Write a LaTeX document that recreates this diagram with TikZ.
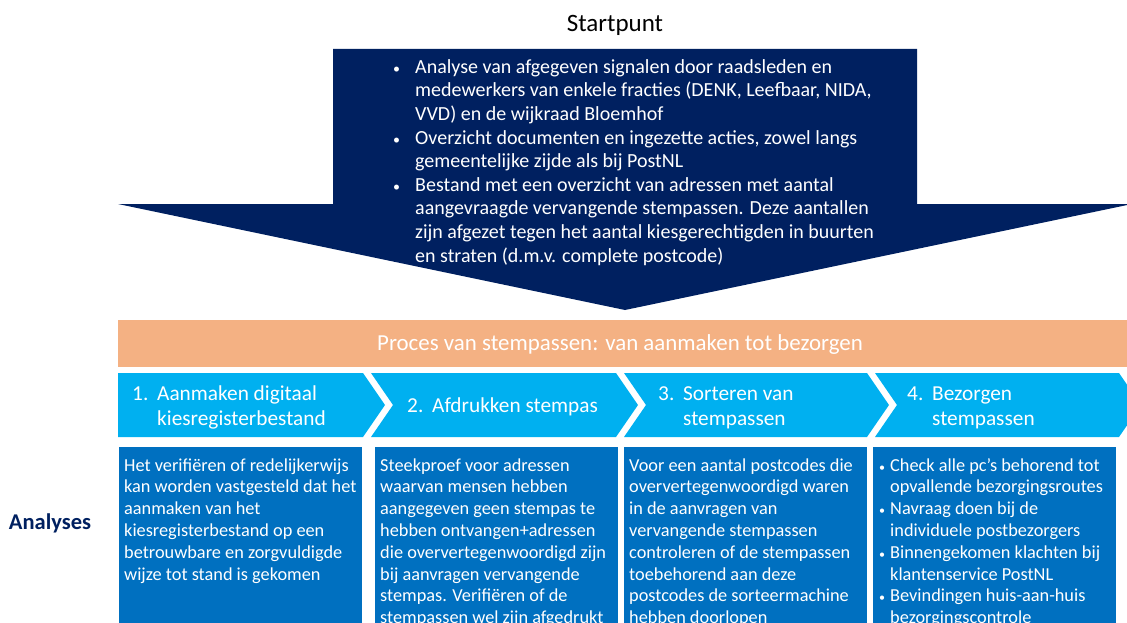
\documentclass[tikz,border=0pt]{standalone}
\usepackage{fontspec}
\setmainfont{Carlito}
\usetikzlibrary{positioning}

\definecolor{startnavy}{HTML}{002060}
\definecolor{procesorange}{HTML}{F4B183}
\definecolor{stapcyan}{HTML}{00B0F0}
\definecolor{analyseblue}{HTML}{0070C0}

\newcommand{\stip}{\makebox[25pt][l]{\hspace*{3pt}\fontsize{14}{14}\selectfont\textbullet}}
\newcommand{\stipin}{\hspace*{25pt}}
\newcommand{\kleinstip}{\makebox[11pt][l]{\fontsize{12}{12}\selectfont\textbullet}}
\newcommand{\kleinin}{\hspace*{11pt}}
\newcommand{\stapnr}[1]{\makebox[25pt][l]{#1}}

\begin{document}
\begin{tikzpicture}[x=1pt, y=-1pt,
  staptext/.style={text=white, align=left, inner sep=0pt, font=\fontsize{21.3}{24.5}\selectfont},
  analysetext/.style={text=white, anchor=north west, align=left, inner sep=0pt, font=\fontsize{18.3}{21.8}\selectfont}]
\useasboundingbox (0,0) rectangle (1127,623);
\clip (0,0) rectangle (1127,623);

\node[anchor=base, inner sep=0pt, font=\fontsize{25}{28}\selectfont] (startpunt) at (615,32) {Startpunt};

\fill[startnavy] (333,49) -- (917,49) -- (917,204) -- (1132,204) -- (625,310) -- (118,204) -- (333,204) -- cycle;
\node[anchor=north west, inner sep=0pt, align=left, text=white, font=\fontsize{20}{23.6}\selectfont] (bronnen) at (390,56.5) {\strut\stip Analyse van afgegeven signalen door raadsleden en\\
\stipin medewerkers van enkele fracties (DENK, Leefbaar, NIDA,\\
\stipin VVD) en de wijkraad Bloemhof\\
\stip Overzicht documenten en ingezette acties, zowel langs\\
\stipin gemeentelijke zijde als bij PostNL\\
\stip Bestand met een overzicht van adressen met aantal\\
\stipin aangevraagde vervangende stempassen. Deze aantallen\\
\stipin zijn afgezet tegen het aantal kiesgerechtigden in buurten\\
\stipin en straten (d.m.v. complete postcode)};

\fill[procesorange] (118,320) rectangle (1127,367);
\node[anchor=base, inner sep=0pt, text=white, font=\fontsize{22.9}{26}\selectfont] (proces) at (620,350.7) {Proces van stempassen: van aanmaken tot bezorgen};

\fill[stapcyan] (118,373) -- (363,373) -- (385,405) -- (363,437) -- (118,437) -- cycle;
\fill[stapcyan] (371,373) -- (616,373) -- (638,405) -- (616,437) -- (371,437) -- (393,405) -- cycle;
\fill[stapcyan] (624,373) -- (867,373) -- (889,405) -- (867,437) -- (624,437) -- (646,405) -- cycle;
\fill[stapcyan] (875,373) -- (1119,373) -- (1141,405) -- (1119,437) -- (875,437) -- (897,405) -- cycle;
\node[staptext, anchor=north west] (stap1) at (132,383.5) {\strut\stapnr{1.}Aanmaken digitaal\\ \stipin kiesregisterbestand};
\node[staptext, anchor=base west] (stap2) at (407,412.7) {\stapnr{2.}Afdrukken stempas};
\node[staptext, anchor=north west] (stap3) at (658,383.5) {\strut\stapnr{3.}Sorteren van\\ \stipin stempassen};
\node[staptext, anchor=north west] (stap4) at (907,383.5) {\strut\stapnr{4.}Bezorgen\\ \stipin stempassen};

\node[anchor=base, inner sep=0pt, text=startnavy, font=\bfseries\fontsize{22.5}{25}\selectfont] (analyses) at (50,529) {Analyses};

\fill[analyseblue] (119,447) rectangle (362,630);
\fill[analyseblue] (375,447) rectangle (618,630);
\fill[analyseblue] (624,447) rectangle (867,630);
\fill[analyseblue] (873,447) rectangle (1116,630);
\node[analysetext] (analyse1) at (124,455.7) {\strut Het verifiëren of redelijkerwijs\\
kan worden vastgesteld dat het\\
aanmaken van het\\
kiesregisterbestand op een\\
betrouwbare en zorgvuldigde\\
wijze tot stand is gekomen};
\node[analysetext] (analyse2) at (380,455.7) {\strut Steekproef voor adressen\\
waarvan mensen hebben\\
aangegeven geen stempas te\\
hebben ontvangen+adressen\\
die oververtegenwoordigd zijn\\
bij aanvragen vervangende\\
stempas. Verifiëren of de\\
stempassen wel zijn afgedrukt};
\node[analysetext] (analyse3) at (629,455.7) {\strut Voor een aantal postcodes die\\
oververtegenwoordigd waren\\
in de aanvragen van\\
vervangende stempassen\\
controleren of de stempassen\\
toebehorend aan deze\\
postcodes de sorteermachine\\
hebben doorlopen};
\node[analysetext] (analyse4) at (879,455.7) {\strut\kleinstip Check alle pc’s behorend tot\\
\kleinin opvallende bezorgingsroutes\\
\kleinstip Navraag doen bij de\\
\kleinin individuele postbezorgers\\
\kleinstip Binnengekomen klachten bij\\
\kleinin klantenservice PostNL\\
\kleinstip Bevindingen huis-aan-huis\\
\kleinin bezorgingscontrole};
\end{tikzpicture}
\end{document}
